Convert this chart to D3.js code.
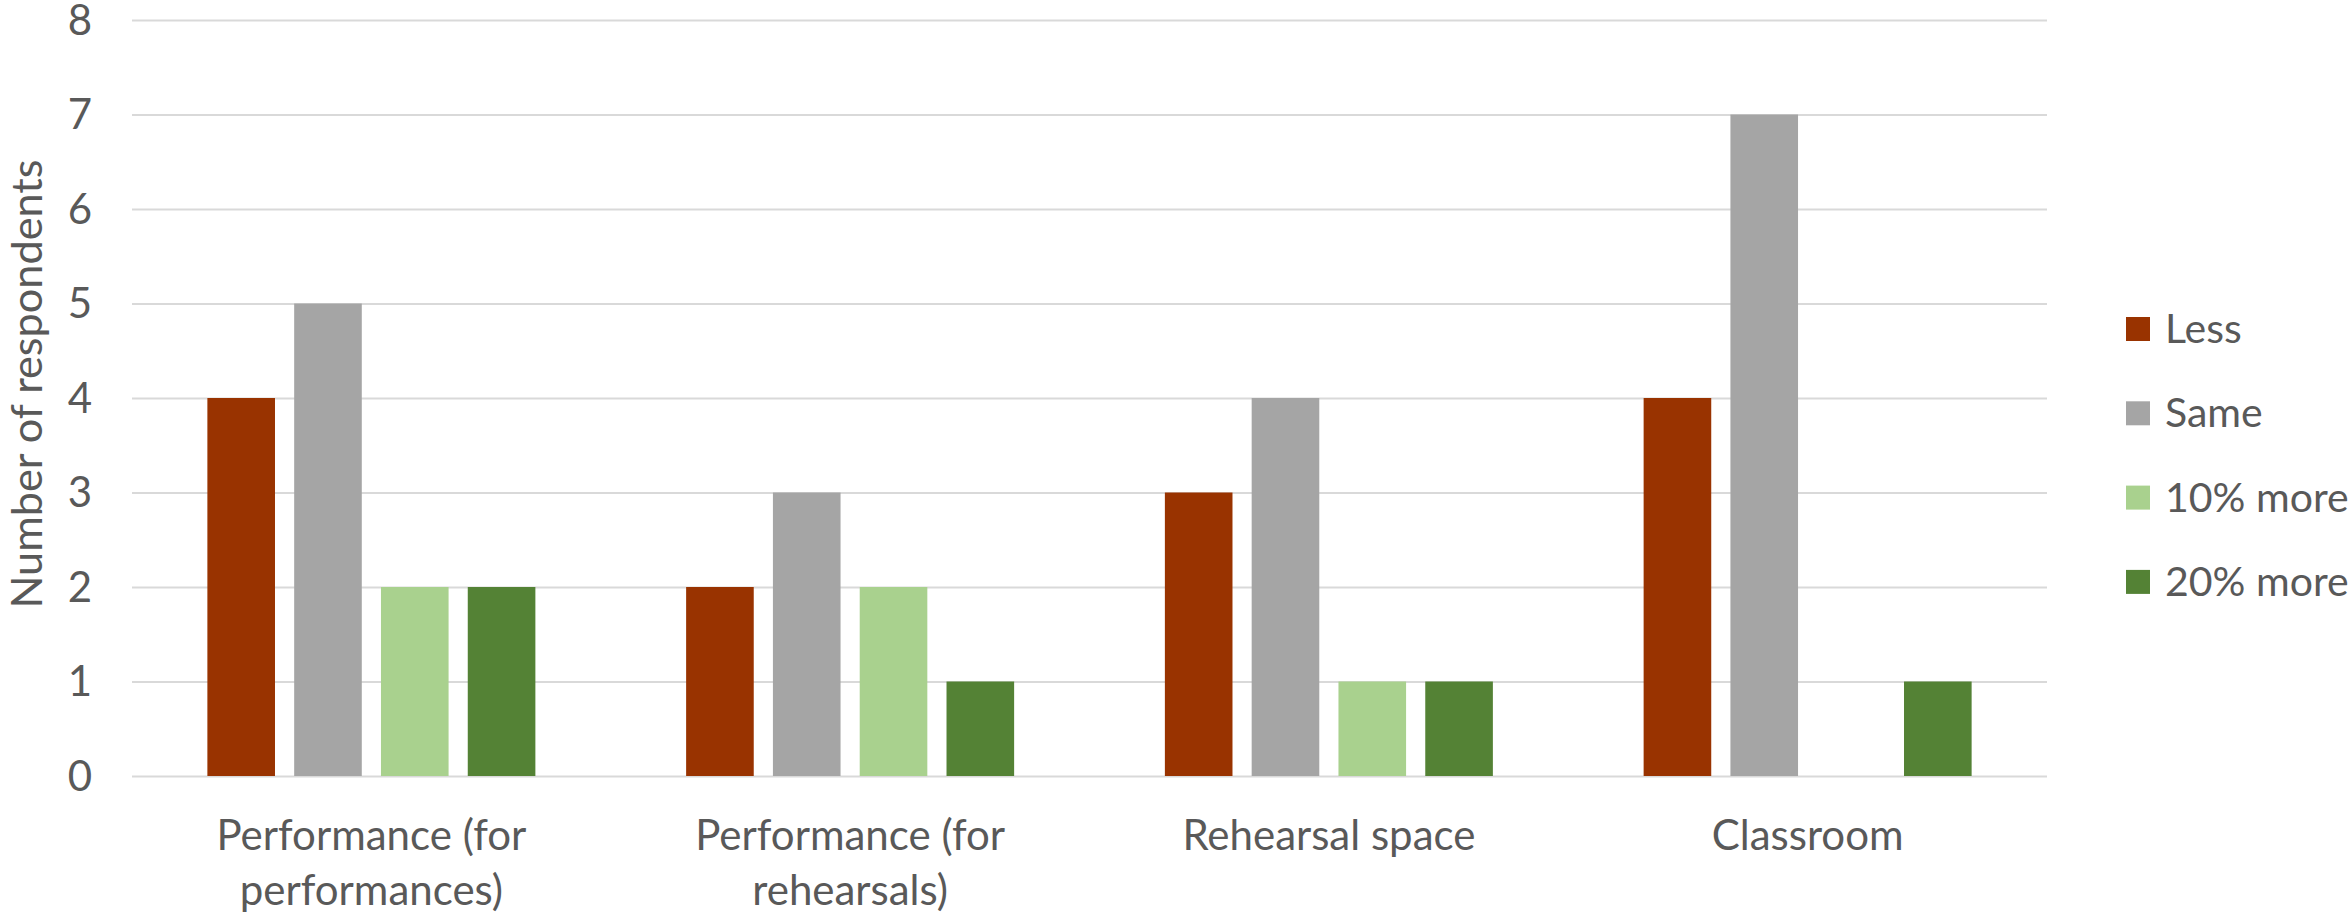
<!DOCTYPE html>
<html>
<head>
<meta charset="utf-8">
<script src="https://cdn.jsdelivr.net/npm/d3@7"></script>
<style>
  html, body { margin: 0; padding: 0; background: #ffffff; }
  svg { display: block; }
  text { font-family: Lato, "Open Sans", sans-serif; fill: #595959; }
</style>
</head>
<body>
<svg id="chart" width="2351" height="914"></svg>
<script>
// Space-use survey: how much space respondents expect to need
const categories = [
  "Performance (for performances)",
  "Performance (for rehearsals)",
  "Rehearsal space",
  "Classroom"
];
const series = ["Less", "Same", "10% more", "20% more"];
const lessValues    = [4, 2, 3, 4];
const sameValues    = [5, 3, 4, 7];
const more10Values  = [2, 2, 1, 0];
const more20Values  = [2, 1, 1, 1];
const seriesColors  = ["#993300", "#A5A5A5", "#A9D18E", "#548235"];
const yTicks = [0, 1, 2, 3, 4, 5, 6, 7, 8];
const yTitle = "Number of respondents";

const seriesValues = [lessValues, sameValues, more10Values, more20Values];
const rows = categories.map((c, i) => ({
  category: c,
  values: series.map((s, j) => ({ key: s, value: seriesValues[j][i] }))
}));

const svg = d3.select("#chart");
const plot = { left: 132, right: 2047, top: 20, bottom: 776 };
const FONT = 42;
const LEGEND_FONT = 41;

const y = d3.scaleLinear().domain([0, 8]).range([plot.bottom, plot.top]);
const x0 = d3.scaleBand().domain(categories).range([plot.left, plot.right]).padding(0);
const half = x0.bandwidth() / 2;
const x1 = d3.scaleBand().domain(series)
  .range([half - 164, half + 164]).paddingInner(0.221);
const color = d3.scaleOrdinal().domain(series).range(seriesColors);

// gridlines + y tick labels
const yAxis = svg.append("g")
  .attr("transform", `translate(${plot.left},0)`)
  .call(d3.axisLeft(y).tickValues(yTicks).tickFormat(d3.format("d"))
    .tickSize(-(plot.right - plot.left)).tickPadding(40));
yAxis.select(".domain").remove();
yAxis.selectAll(".tick line").attr("stroke", "#D9D9D9").attr("stroke-width", 2);
yAxis.selectAll(".tick text")
  .attr("fill", "#595959")
  .attr("dy", "0.34em")
  .style("font-family", "Lato, 'Open Sans', sans-serif")
  .style("font-size", FONT + "px");

// bars
const groups = svg.append("g").selectAll("g")
  .data(rows).join("g")
  .attr("transform", d => `translate(${x0(d.category)},0)`);
groups.selectAll("rect")
  .data(d => d.values.filter(v => v.value > 0))
  .join("rect")
  .attr("x", d => x1(d.key))
  .attr("width", x1.bandwidth())
  .attr("y", d => y(d.value))
  .attr("height", d => y(0) - y(d.value))
  .attr("fill", d => color(d.key));

// category labels, wrapped to fit under each group
const xAxis = svg.append("g")
  .attr("transform", `translate(0,${plot.bottom})`)
  .call(d3.axisBottom(x0).tickSize(0).tickPadding(0));
xAxis.select(".domain").remove();
xAxis.selectAll(".tick text")
  .attr("fill", "#595959")
  .style("font-family", "Lato, 'Open Sans', sans-serif")
  .style("font-size", FONT + "px")
  .each(function (d) {
    const t = d3.select(this);
    const words = d.split(" ");
    t.text(null).attr("y", 0).attr("dy", null);
    const lines = [];
    let line = [];
    const probe = t.append("tspan");
    words.forEach(w => {
      line.push(w);
      probe.text(line.join(" "));
      if (probe.node().getComputedTextLength() > x0.bandwidth() * 0.75 && line.length > 1) {
        line.pop();
        lines.push(line.join(" "));
        line = [w];
      }
    });
    lines.push(line.join(" "));
    probe.remove();
    lines.forEach((l, i) => {
      t.append("tspan").attr("x", 0).attr("y", 74 + i * 55).text(l);
    });
  });

// y-axis title
svg.append("text")
  .attr("transform", `translate(42,384) rotate(-90)`)
  .attr("text-anchor", "middle")
  .style("font-size", (FONT * 1.03) + "px")
  .text(yTitle);

// legend
const legend = svg.append("g").selectAll("g")
  .data(series).join("g")
  .attr("transform", (d, i) => `translate(2126,${317 + i * 84.3})`);
legend.append("rect")
  .attr("width", 24).attr("height", 24)
  .attr("fill", d => color(d));
legend.append("text")
  .attr("x", 39).attr("y", 26)
  .style("font-size", LEGEND_FONT + "px")
  .text(d => d);
</script>
</body>
</html>
